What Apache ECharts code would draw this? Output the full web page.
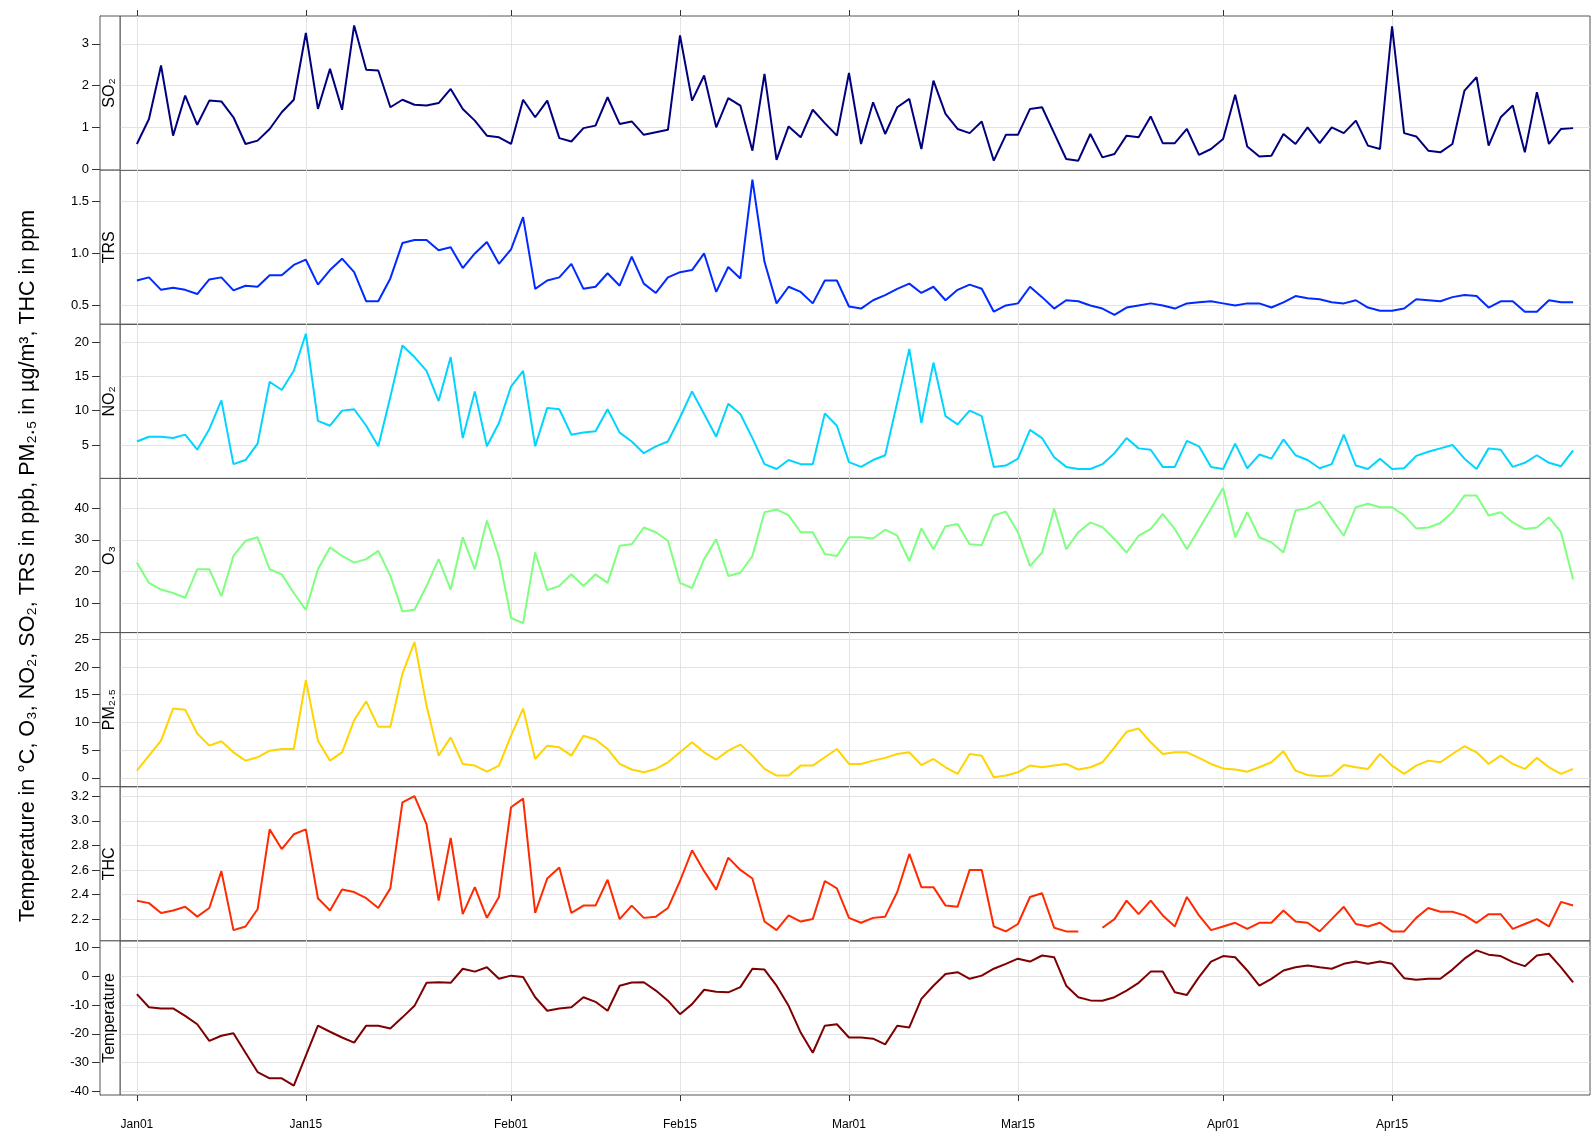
<!DOCTYPE html>
<html><head><meta charset="utf-8">
<script src="https://cdn.jsdelivr.net/npm/echarts@6/dist/echarts.min.js"></script>
<style>html,body{margin:0;padding:0;background:#fff}#c{width:1593px;height:1135px}</style>
</head><body><div id="c"></div>
<script>
// ---- data ----
const startYear = 2013;
const tickLabels = ['Jan01','Jan15','Feb01','Feb15','Mar01','Mar15','Apr01','Apr15'];
const tickDates = [[1,1],[1,15],[2,1],[2,15],[3,1],[3,15],[4,1],[4,15]];
const panelNames = ['SO\u2082','TRS','NO\u2082','O\u2083','PM\u2082.\u2085','THC','Temperature'];
const yTitle = 'Temperature in \u00B0C, O\u2083, NO\u2082, SO\u2082, TRS in ppb, PM\u2082.\u2085 in \u00B5g/m\u00B3, THC in ppm';

const so2 = [0.60,1.20,2.48,0.80,1.76,1.06,1.64,1.62,1.24,0.60,
 0.68,0.96,1.36,1.66,3.26,1.44,2.40,1.42,3.44,2.38,
 2.36,1.48,1.66,1.54,1.52,1.58,1.92,1.44,1.16,0.80,
 0.76,0.60,1.66,1.24,1.64,0.74,0.66,0.98,1.04,1.72,
 1.08,1.14,0.82,0.88,0.94,3.20,1.64,2.24,1.00,1.70,
 1.52,0.44,2.28,0.22,1.02,0.76,1.42,1.10,0.80,2.30,
 0.60,1.60,0.84,1.48,1.68,0.48,2.12,1.32,0.96,0.86,
 1.14,0.20,0.82,0.82,1.44,1.48,0.86,0.24,0.20,0.84,
 0.28,0.36,0.80,0.76,1.26,0.62,0.62,0.96,0.34,0.48,
 0.72,1.78,0.54,0.30,0.32,0.84,0.60,1.00,0.62,1.00,
 0.86,1.16,0.56,0.48,3.42,0.86,0.78,0.44,0.40,0.60,
 1.88,2.20,0.56,1.24,1.52,0.40,1.84,0.60,0.96,0.98];

const trs = [0.74,0.77,0.65,0.67,0.65,0.61,0.75,0.77,0.645,0.69,
 0.68,0.79,0.79,0.89,0.94,0.70,0.84,0.95,0.82,0.54,
 0.54,0.76,1.10,1.13,1.13,1.03,1.06,0.86,1.00,1.11,
 0.90,1.04,1.35,0.66,0.74,0.77,0.90,0.66,0.68,0.81,
 0.69,0.97,0.71,0.62,0.77,0.82,0.84,1.00,0.63,0.87,
 0.76,1.71,0.92,0.52,0.68,0.63,0.52,0.74,0.74,0.49,
 0.47,0.55,0.60,0.66,0.71,0.62,0.68,0.55,0.65,0.70,
 0.66,0.44,0.50,0.52,0.68,0.58,0.47,0.55,0.54,0.50,
 0.47,0.41,0.48,0.50,0.52,0.50,0.47,0.52,0.53,0.54,
 0.52,0.50,0.52,0.52,0.48,0.53,0.59,0.57,0.56,0.53,
 0.52,0.55,0.48,0.45,0.45,0.47,0.56,0.55,0.54,0.58,
 0.60,0.59,0.48,0.54,0.54,0.44,0.44,0.55,0.53,0.53];

const no2 = [5.5,6.2,6.2,6.0,6.5,4.3,7.3,11.5,2.2,2.8,
 5.2,14.2,13.0,15.8,21.2,8.5,7.8,10.0,10.2,7.8,
 4.8,12.0,19.5,17.8,15.8,11.4,17.8,6.0,12.8,4.8,
 8.2,13.5,15.8,4.8,10.4,10.2,6.5,6.8,7.0,10.2,
 6.8,5.5,3.8,4.8,5.5,9.0,12.8,9.5,6.2,11.0,
 9.5,6.0,2.2,1.5,2.8,2.2,2.2,9.6,7.8,2.5,
 1.8,2.8,3.5,11.2,19.0,8.2,17.0,9.2,8.0,10.0,
 9.2,1.8,2.0,3.0,7.2,6.0,3.2,1.8,1.5,1.5,
 2.2,3.8,6.0,4.5,4.3,1.8,1.8,5.6,4.8,1.8,
 1.5,5.2,1.6,3.6,3.0,5.8,3.5,2.8,1.6,2.2,
 6.5,2.0,1.5,3.0,1.5,1.6,3.4,4.0,4.5,5.0,
 3.0,1.5,4.5,4.3,1.8,2.4,3.5,2.4,1.9,4.2];

const o3 = [22.8,16.4,14.3,13.2,11.7,20.7,20.7,12.2,24.9,29.7,
 30.8,20.7,19.1,13.2,7.9,20.7,27.6,24.9,22.8,23.9,
 26.5,18.6,7.4,7.9,15.4,23.9,14.3,30.8,20.7,36.1,
 24.4,5.3,3.7,26.0,14.1,15.4,19.1,15.4,19.1,16.4,
 28.1,28.6,33.9,32.4,29.7,16.4,14.8,23.9,30.2,18.6,
 19.6,24.9,38.7,39.6,37.7,32.4,32.4,25.5,24.9,30.8,
 30.8,30.4,33.2,31.3,23.3,33.6,27.0,34.3,35.0,28.6,
 28.3,37.7,38.9,32.4,21.7,26.0,39.8,27.0,32.4,35.5,
 34.0,30.2,26.0,31.3,33.4,38.2,33.4,27.0,33.4,39.8,
 46.4,30.8,38.7,30.8,29.2,26.0,39.3,40.0,42.1,36.6,
 31.3,40.3,41.4,40.3,40.3,37.7,33.6,33.9,35.3,38.7,
 44.0,44.0,37.7,38.7,35.5,33.4,33.9,37.1,32.4,17.5];

const pm25 = [1.3,4.0,6.7,12.5,12.3,8.0,5.8,6.6,4.6,3.1,
 3.7,4.9,5.2,5.2,17.6,6.7,3.1,4.6,10.4,13.8,
 9.2,9.2,18.8,24.5,13.0,4.0,7.3,2.5,2.2,1.1,
 2.2,7.6,12.5,3.4,5.8,5.5,4.0,7.6,6.9,5.2,
 2.5,1.5,1.0,1.6,2.8,4.6,6.4,4.6,3.3,4.9,
 6.0,4.0,1.6,0.4,0.4,2.2,2.2,3.7,5.2,2.5,
 2.5,3.1,3.6,4.3,4.6,2.3,3.4,1.9,0.7,4.3,
 4.0,0.1,0.4,1.0,2.2,1.9,2.2,2.5,1.5,1.9,
 2.8,5.5,8.3,8.9,6.4,4.3,4.6,4.6,3.6,2.5,
 1.7,1.5,1.1,1.9,2.8,4.8,1.3,0.5,0.3,0.4,
 2.3,1.9,1.6,4.3,2.2,0.7,2.2,3.1,2.8,4.3,
 5.7,4.6,2.5,4.0,2.5,1.6,3.6,1.9,0.7,1.6];

const thc = [2.35,2.33,2.25,2.27,2.30,2.22,2.29,2.59,2.11,2.14,
 2.28,2.93,2.77,2.89,2.93,2.37,2.27,2.44,2.42,2.37,
 2.29,2.45,3.15,3.20,2.97,2.35,2.86,2.24,2.46,2.21,
 2.38,3.11,3.18,2.25,2.53,2.62,2.25,2.31,2.31,2.52,
 2.20,2.31,2.21,2.22,2.29,2.51,2.76,2.59,2.44,2.70,
 2.60,2.53,2.18,2.11,2.23,2.18,2.20,2.51,2.45,2.21,
 2.17,2.21,2.22,2.42,2.73,2.46,2.46,2.31,2.30,2.60,
 2.60,2.14,2.10,2.16,2.38,2.41,2.13,2.10,2.10,null,
 2.13,2.20,2.35,2.24,2.35,2.23,2.14,2.38,2.23,2.11,
 2.14,2.17,2.12,2.17,2.17,2.27,2.18,2.17,2.10,2.20,
 2.30,2.16,2.14,2.17,2.10,2.10,2.21,2.29,2.26,2.26,
 2.23,2.17,2.24,2.24,2.12,2.16,2.20,2.14,2.34,2.31];

const temperature = [-6.2,-10.8,-11.2,-11.2,-13.8,-16.7,-22.5,-20.7,-19.8,-26.6,
 -33.3,-35.5,-35.5,-38.0,-27.6,-17.2,-19.3,-21.3,-23.1,-17.2,
 -17.2,-18.2,-14.3,-10.3,-2.3,-2.1,-2.3,2.6,1.6,3.1,
 -0.9,0.2,-0.3,-7.3,-12.0,-11.2,-10.8,-7.3,-8.9,-12.0,
 -3.3,-2.2,-2.1,-5.0,-8.5,-13.2,-9.7,-4.7,-5.4,-5.6,
 -3.8,2.6,2.3,-3.3,-10.3,-19.6,-26.6,-17.2,-16.7,-21.3,
 -21.3,-21.7,-23.7,-17.2,-17.8,-7.9,-3.3,0.8,1.4,-0.9,
 0.2,2.6,4.3,6.1,5.1,7.2,6.6,-3.3,-7.3,-8.4,
 -8.5,-7.3,-5.0,-2.3,1.6,1.6,-5.6,-6.5,-0.3,5.1,
 7.0,6.6,2.0,-3.3,-0.9,2.0,3.1,3.7,3.1,2.6,
 4.3,5.1,4.3,5.1,4.3,-0.7,-1.2,-0.9,-0.9,2.3,
 6.1,9.0,7.5,7.0,4.9,3.5,7.2,7.8,3.1,-2.1];

const seriesValues = [so2, trs, no2, o3, pm25, thc, temperature];
const tickSteps = [1, 0.5, 5, 10, 5, 0.2, 10];
const tickDecimals = [0, 1, 0, 0, 0, 1, 0];

// ---- styles / layout ----
const colors = ['#00007F','#002AFF','#00D4FF','#7FFF7F','#FFD400','#FF2A00','#7F0000'];
const FONT = 'Liberation Sans, Arial, sans-serif';
const L = 120, R = 1590, T = 16, B = 1095, STRIP = 20;
const n = seriesValues.length;
const h = (B - T) / n;

const dayOf = (m, d) => Math.round((Date.UTC(startYear, m - 1, d) - Date.UTC(startYear, 0, 1)) / 86400000);
const tickDays = tickDates.map(([m, d]) => dayOf(m, d));
const nDays = so2.length;
const xPad = 1.4;

const grids = [], xAxes = [], yAxes = [], series = [], graphics = [];
for (let i = 0; i < n; i++) {
  const vals = seriesValues[i];
  const valid = vals.filter(v => v !== null);
  const dmin = Math.min(...valid), dmax = Math.max(...valid);
  const pad = 0.07 * (dmax - dmin);
  const ymin = dmin - pad, ymax = dmax + pad;
  const step = tickSteps[i];
  const yt = [];
  for (let v = Math.ceil(ymin / step) * step; v <= ymax + 1e-9; v += step) yt.push(+v.toFixed(6));
  const top = T + i * h;

  grids.push({ left: L, top: top, width: R - L, height: h, show: true,
    borderColor: '#555', borderWidth: 1, backgroundColor: 'transparent' });

  const isTop = i === 0, isBottom = i === n - 1;
  xAxes.push({ type: 'value', gridIndex: i, min: -xPad, max: nDays - 1 + xPad,
    position: isTop ? 'top' : 'bottom',
    axisLine: { show: false, onZero: false },
    axisTick: { show: isTop || isBottom, length: 6, customValues: tickDays,
      lineStyle: { color: '#333' } },
    axisLabel: { show: isBottom, customValues: tickDays, margin: 24,
      fontFamily: FONT, fontSize: 12, color: '#000',
      formatter: v => tickLabels[tickDays.indexOf(Math.round(v))] || '' },
    splitLine: { show: true, lineStyle: { color: '#e3e3e3', width: 1 } } });

  yAxes.push({ type: 'value', gridIndex: i, min: ymin, max: ymax, position: 'left',
    offset: STRIP,
    axisLine: { show: true, onZero: false, lineStyle: { color: '#555' } },
    axisTick: { show: true, length: 8, customValues: yt, lineStyle: { color: '#333' } },
    axisLabel: { show: true, customValues: yt, margin: 11, fontFamily: FONT,
      fontSize: 13, color: '#000', formatter: v => (+v).toFixed(tickDecimals[i]) },
    splitLine: { show: true, lineStyle: { color: '#e3e3e3', width: 1 } } });

  series.push({ type: 'line', xAxisIndex: i, yAxisIndex: i, name: panelNames[i],
    data: vals.map((v, k) => [k, v === null ? '-' : v]),
    showSymbol: false, symbol: 'none', connectNulls: false, animation: false,
    lineStyle: { width: 2, color: colors[i] }, itemStyle: { color: colors[i] } });

  graphics.push({ type: 'rect', shape: { x: L - STRIP, y: top, width: STRIP, height: h },
    style: { fill: '#fff', stroke: '#555', lineWidth: 1 }, z: 10 });
  graphics.push({ type: 'text', x: L - STRIP / 2, y: top + h / 2, rotation: Math.PI / 2,
    style: { text: panelNames[i], font: '16px ' + FONT, fill: '#000',
      textAlign: 'center', textVerticalAlign: 'middle' }, z: 11 });
}
graphics.push({ type: 'text', x: 28, y: 566, rotation: Math.PI / 2,
  style: { text: yTitle, font: '21.5px ' + FONT, fill: '#000',
    textAlign: 'center', textVerticalAlign: 'middle' }, z: 11 });

const chart = echarts.init(document.getElementById('c'), null, { renderer: 'canvas' });
chart.setOption({
  animation: false, backgroundColor: '#fff',
  grid: grids, xAxis: xAxes, yAxis: yAxes, series: series, graphic: graphics
});
</script></body></html>
